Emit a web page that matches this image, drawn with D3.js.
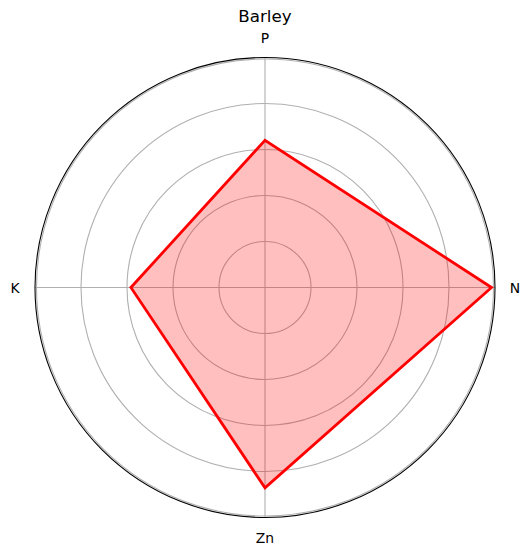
<!DOCTYPE html>
<html>
<head>
<meta charset="utf-8">
<script src="https://cdn.jsdelivr.net/npm/d3@7"></script>
<style>
  body { margin: 0; background: #fff; }
  svg { font-family: "DejaVu Sans", sans-serif; }
</style>
</head>
<body>
<svg id="chart" width="530" height="555"></svg>
<script>
// data (radial scale 0..1)
const categories = ["N", "P", "K", "Zn"];
const values = [0.985, 0.64, 0.583, 0.871];
const ringTicks = [0.2, 0.4, 0.6, 0.8, 1.0];
const title = "Barley";

const cx = 265, cy = 287.5, R = 230;

const svg = d3.select("#chart");
const g = svg.append("g").attr("transform", `translate(${cx},${cy})`);

const r = d3.scaleLinear().domain([0, 1]).range([0, R]);
// angle: N at 0 (right), counter-clockwise like matplotlib
const angle = d3.scaleLinear().domain([0, categories.length]).range([0, 2 * Math.PI]);
const px = (i, v) => r(v) * Math.cos(angle(i));
const py = (i, v) => -r(v) * Math.sin(angle(i));

// grid rings
g.selectAll(".ring")
  .data(ringTicks)
  .enter()
  .append("circle")
  .attr("r", d => d === 1 ? r(d) - 1.5 : r(d))
  .attr("fill", "none")
  .attr("stroke", "#b0b0b0")
  .attr("stroke-width", 1.1);

// spokes
g.selectAll(".spoke")
  .data(categories)
  .enter()
  .append("line")
  .attr("x1", 0).attr("y1", 0)
  .attr("x2", (d, i) => px(i, 1))
  .attr("y2", (d, i) => py(i, 1))
  .attr("stroke", "#b0b0b0")
  .attr("stroke-width", 1.1);

// outer spine
g.append("circle")
  .attr("r", r(1))
  .attr("fill", "none")
  .attr("stroke", "#000")
  .attr("stroke-width", 1.1);

// polygon
const pts = values.map((v, i) => [px(i, v), py(i, v)]);
const line = d3.line().curve(d3.curveLinearClosed);
g.append("path")
  .attr("d", line(pts))
  .attr("fill", "red")
  .attr("fill-opacity", 0.25)
  .attr("stroke", "red")
  .attr("stroke-width", 2.8)
  .attr("stroke-linejoin", "miter");

// category labels
const labelR = R + 20;
g.selectAll(".lab")
  .data(categories)
  .enter()
  .append("text")
  .attr("x", (d, i) => labelR * Math.cos(angle(i)))
  .attr("y", (d, i) => -labelR * Math.sin(angle(i)))
  .attr("text-anchor", "middle")
  .attr("dominant-baseline", "central")
  .attr("font-size", 13.9)
  .attr("fill", "#000")
  .text(d => d);

// title
svg.append("text")
  .attr("x", cx)
  .attr("y", 22)
  .attr("text-anchor", "middle")
  .attr("font-size", 16.7)
  .attr("fill", "#000")
  .text(title);
</script>
</body>
</html>
